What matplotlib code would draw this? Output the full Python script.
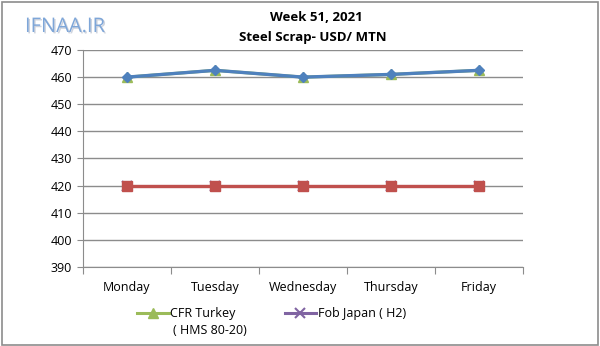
import matplotlib
matplotlib.use("Agg")
import matplotlib.pyplot as plt
from matplotlib.lines import Line2D
import matplotlib.patheffects as pe

days = ["Monday", "Tuesday", "Wednesday", "Thursday", "Friday"]
cfr_turkey = [460, 462.5, 460, 461, 462.5]
cfr_turkey_b = [460, 462.5, 460, 461, 462.5]
fob_japan = [420, 420, 420, 420, 420]
fob_japan_b = [420, 420, 420, 420, 420]
yticks = [390, 400, 410, 420, 430, 440, 450, 460, 470]
legend_labels = ["CFR Turkey", "( HMS 80-20)", "Fob Japan ( H2)"]

plt.rcParams['font.family'] = ['Open Sans', 'DejaVu Sans']

W, H = 600, 346
fig = plt.figure(figsize=(W / 100, H / 100), dpi=100)
ax = fig.add_axes([83/W, 79/H, 440/W, 217/H])

x = list(range(len(days)))
ax.plot(x, cfr_turkey, color='#9bbb59', lw=2.2, marker='^', ms=7, zorder=3)
ax.plot(x, fob_japan, color='#8064a2', lw=2.2, marker='x', ms=7, mew=1.5, zorder=3)
ax.plot(x, cfr_turkey_b, color='#4f81bd', lw=2.4, marker='D', ms=5.5, zorder=4)
ax.plot(x, fob_japan_b, color='#c0504d', lw=2.4, marker='s', ms=7, zorder=4)

ax.set_xlim(-0.5, len(days) - 0.5)
ax.set_ylim(390, 470)
ax.set_yticks(yticks)
ax.yaxis.grid(True, color='#8c8c8c', lw=1)
ax.set_axisbelow(True)
for s in ['top', 'right']:
    ax.spines[s].set_visible(False)
for s in ['left', 'bottom']:
    ax.spines[s].set_color('#8c8c8c')
ax.set_xticks([i - 0.5 for i in range(len(days) + 1)])
ax.set_xticklabels([])
ax.set_xticks(x, minor=True)
ax.set_xticklabels(days, minor=True, fontsize=9)
ax.tick_params(axis='x', which='major', length=5, color='#8c8c8c', direction='out')
ax.tick_params(axis='x', which='minor', length=0, pad=10)
ax.tick_params(axis='y', length=4, color='#8c8c8c', labelsize=9, pad=4)

fig.text(0.527, 0.948, "Week 51, 2021", ha='center', va='center', fontsize=9.5, fontweight='bold')
fig.text(0.522, 0.891, "Steel Scrap- USD/ MTN", ha='center', va='center', fontsize=9.5, fontweight='bold')

fig.text(25/W, 1 - 27/H, "IFNAA.IR", ha='left', va='center', fontsize=14.5, color='#7ea6d8',
         family=['Liberation Sans Narrow', 'Open Sans', 'DejaVu Sans'],
         path_effects=[pe.withSimplePatchShadow(offset=(1, -1), shadow_rgbFace='#b0b8c8', alpha=0.6)])

# legend (manual, figure pixel coords from top-left)
def fx(px):
    return px / W
def fy(py):
    return 1 - py / H

fig.add_artist(Line2D([fx(137), fx(169)], [fy(313), fy(313)], color='#9bbb59', lw=2.2))
fig.add_artist(Line2D([fx(153)], [fy(313)], color='#9bbb59', marker='^', ms=7))
fig.text(fx(170), fy(313), legend_labels[0], ha='left', va='center', fontsize=9)
fig.text(fx(173), fy(331), legend_labels[1], ha='left', va='center', fontsize=9)
fig.add_artist(Line2D([fx(285), fx(316)], [fy(313), fy(313)], color='#8064a2', lw=2.2))
fig.add_artist(Line2D([fx(300)], [fy(313)], color='#8064a2', marker='x', ms=7, mew=1.5))
fig.text(fx(318), fy(313), legend_labels[2], ha='left', va='center', fontsize=9)

fig.patches.append(plt.Rectangle((0.003, 0.004), 0.993, 0.99, transform=fig.transFigure,
                                 fill=False, edgecolor='#8c8c8c', lw=1.2))

fig.savefig("out.png", dpi=100)
